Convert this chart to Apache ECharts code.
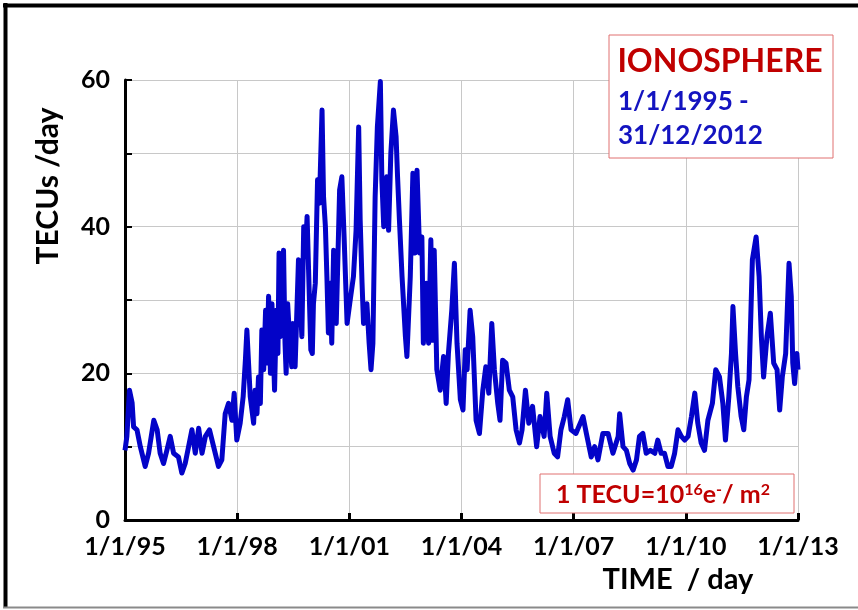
<!DOCTYPE html>
<html>
<head>
<meta charset="utf-8">
<script src="https://cdn.jsdelivr.net/npm/echarts@6/dist/echarts.min.js"></script>
<style>
  html, body { margin: 0; padding: 0; background: #fff; }
  #chart { width: 858px; height: 610px; }
</style>
</head>
<body>
<div id="chart"></div>
<script>
// decimal year of each sample
const years = [
  1995.00, 1995.05, 1995.12, 1995.19, 1995.23, 1995.32, 1995.41, 1995.54, 1995.63, 1995.77,
  1995.86, 1995.94, 1996.03, 1996.12, 1996.21, 1996.30, 1996.43, 1996.52, 1996.61, 1996.70,
  1996.79, 1996.88, 1996.97, 1997.06, 1997.15, 1997.26, 1997.37, 1997.50, 1997.59, 1997.68,
  1997.77, 1997.86, 1997.92, 1997.99, 1998.08, 1998.16, 1998.22, 1998.26, 1998.35,
  1998.44, 1998.48, 1998.53, 1998.57, 1998.62, 1998.66, 1998.71, 1998.76, 1998.80, 1998.84,
  1998.89, 1998.93, 1999.00, 1999.05, 1999.09, 1999.12, 1999.15, 1999.19, 1999.24, 1999.28,
  1999.31, 1999.35, 1999.40, 1999.46, 1999.49,
  1999.51, 1999.55, 1999.64, 1999.73, 1999.78, 1999.82, 1999.87, 1999.91, 1999.97, 2000.01,
  2000.04, 2000.09, 2000.15, 2000.20, 2000.27, 2000.31, 2000.36, 2000.40, 2000.44, 2000.49,
  2000.53, 2000.58, 2000.65, 2000.74, 2000.80, 2000.86, 2000.94, 2001.01, 2001.11, 2001.18,
  2001.25, 2001.29, 2001.34, 2001.38, 2001.47, 2001.53, 2001.58, 2001.63, 2001.69, 2001.75,
  2001.83, 2001.87, 2001.92, 2002.00, 2002.05, 2002.11, 2002.18, 2002.25, 2002.29, 2002.34,
  2002.41, 2002.50, 2002.54, 2002.63, 2002.70, 2002.76, 2002.81, 2002.88, 2002.94, 2002.98,
  2003.06, 2003.12, 2003.18, 2003.23, 2003.27, 2003.34, 2003.43, 2003.52, 2003.59, 2003.65,
  2003.74, 2003.81, 2003.88, 2003.97, 2004.04,
  2004.10, 2004.15, 2004.23, 2004.30, 2004.39, 2004.48, 2004.57, 2004.65, 2004.73, 2004.81,
  2004.88, 2004.97, 2005.03, 2005.10, 2005.19, 2005.28, 2005.37, 2005.46, 2005.55, 2005.62,
  2005.71, 2005.80, 2005.90, 2006.01, 2006.10, 2006.21, 2006.28, 2006.37, 2006.48, 2006.57,
  2006.66, 2006.75, 2006.84, 2006.93, 2007.06,
  2007.25, 2007.34, 2007.47, 2007.56, 2007.65, 2007.78, 2007.92, 2008.05, 2008.19, 2008.23,
  2008.32, 2008.41, 2008.50, 2008.59, 2008.68, 2008.76, 2008.85, 2008.94, 2009.05, 2009.17,
  2009.25, 2009.34, 2009.43, 2009.52, 2009.61, 2009.70, 2009.79, 2009.88, 2009.97, 2010.06,
  2010.15, 2010.24, 2010.32, 2010.41, 2010.50, 2010.59, 2010.71, 2010.80, 2010.90, 2010.99,
  2011.06, 2011.15, 2011.22, 2011.26, 2011.33, 2011.39, 2011.48, 2011.55, 2011.62, 2011.69,
  2011.78, 2011.88, 2011.96, 2012.02, 2012.08, 2012.17, 2012.26, 2012.35, 2012.44, 2012.51,
  2012.58, 2012.67, 2012.76, 2012.82, 2012.86, 2012.91, 2012.97, 2013.00
];

// TECUs per day
const tec = [
  9.5, 11.4, 17.7, 16.0, 12.7, 12.3, 10.0, 7.3, 9.1, 13.6,
  12.3, 9.1, 7.7, 9.5, 11.4, 9.1, 8.6, 6.4, 7.7, 10.0,
  12.3, 9.1, 12.5, 9.1, 11.4, 12.3, 10.0, 7.3, 8.2, 14.5,
  15.9, 13.6, 17.3, 10.9, 13.2, 16.8, 21.8, 25.9, 16.8,
  13.2, 17.7, 14.5, 19.5, 15.9, 25.9, 20.5, 28.6, 21.4, 30.5,
  20.0, 29.5, 17.7, 28.6, 22.7, 36.4, 25.0, 32.3, 36.8, 24.1,
  20.0, 29.5, 25.0, 20.9, 26.8,
  23.2, 20.9, 35.5, 25.0, 40.0, 35.9, 41.4, 34.1, 23.2, 22.7,
  29.5, 32.3, 46.4, 43.2, 55.9, 44.1, 40.0, 33.2, 25.5, 32.3,
  24.1, 36.8, 26.8, 45.0, 46.8, 38.6, 26.8, 29.5, 33.2, 39.5,
  53.6, 40.9, 32.3, 26.8, 29.5, 24.1, 20.5, 24.1, 44.0, 53.6,
  59.8, 46.4, 40.0, 46.8, 39.5, 50.0, 55.9, 52.3, 46.8, 40.9,
  33.2, 25.0, 22.3, 33.2, 47.3, 36.4, 47.7, 36.4, 38.6, 24.1,
  32.3, 24.1, 38.2, 24.5, 36.8, 20.5, 17.7, 22.3, 15.9, 22.7,
  28.6, 35.0, 24.1, 16.4, 15.0,
  23.2, 20.5, 28.6, 25.0, 13.6, 11.8, 17.7, 20.9, 17.3, 26.8,
  20.5, 15.9, 13.6, 21.8, 21.4, 17.7, 16.8, 12.3, 10.5, 12.3,
  17.7, 13.2, 15.5, 10.0, 14.1, 11.4, 17.3, 11.4, 9.1, 8.6,
  12.3, 14.1, 16.4, 12.3, 11.8,
  14.1, 11.8, 8.6, 10.0, 8.2, 11.8, 11.8, 9.1, 11.4, 14.5,
  10.0, 9.5, 7.7, 6.8, 8.2, 11.4, 11.8, 9.1, 9.5, 9.1,
  10.9, 9.1, 9.1, 7.3, 7.3, 9.1, 12.3, 11.4, 10.9, 11.4,
  14.1, 17.3, 13.2, 10.5, 9.5, 13.6, 15.9, 20.5, 19.5, 15.9,
  10.9, 16.8, 22.7, 29.1, 22.7, 18.2, 14.1, 12.3, 16.8, 19.1,
  35.5, 38.6, 33.2, 25.0, 19.5, 25.0, 28.2, 21.4, 20.5, 15.0,
  19.5, 22.7, 35.0, 30.5, 21.4, 18.6, 22.7, 20.5
];

const xTicks = [1995, 1998, 2001, 2004, 2007, 2010, 2013];
const yLabels = [0, 20, 40, 60];

const font = 'Lato, "Open Sans", sans-serif';
const chart = echarts.init(document.getElementById('chart'), null, { renderer: 'canvas' });

chart.setOption({
  animation: false,
  backgroundColor: '#fff',
  grid: { left: 125, top: 80, width: 673, height: 440 },
  xAxis: {
    type: 'value',
    min: xTicks[0],
    max: xTicks[xTicks.length - 1],
    interval: 3,
    axisLine: { lineStyle: { color: '#000', width: 3 } },
    axisTick: { inside: true, length: 7, lineStyle: { color: '#000', width: 3 } },
    splitLine: { show: true, lineStyle: { color: '#c8c8c8', width: 1 } },
    axisLabel: {
      color: '#000', fontFamily: font, fontWeight: 'bold', fontSize: 25, margin: 14,
      formatter: (v) => (xTicks.includes(v) ? '1/1/' + String(v).slice(2) : ''),
    },
  },
  yAxis: {
    type: 'value',
    min: 0,
    max: 60,
    interval: 10,
    axisLine: { show: true, lineStyle: { color: '#000', width: 3 } },
    axisTick: { show: true, inside: true, length: 7, lineStyle: { color: '#000', width: 2 } },
    splitLine: { show: true, lineStyle: { color: '#c8c8c8', width: 1 } },
    axisLabel: {
      color: '#000', fontFamily: font, fontWeight: 'bold', fontSize: 25, margin: 15,
      formatter: (v) => (yLabels.includes(v) ? String(v) : ''),
    },
  },
  series: [
    {
      type: 'line',
      data: years.map((y, i) => [y, tec[i]]),
      showSymbol: false,
      lineStyle: { color: '#0303c8', width: 5, join: 'round' },
      z: 3,
    },
  ],
  graphic: [
    // outer frame: heavy top and left, light bottom
    { type: 'line', shape: { x1: 3, y1: 5.5, x2: 858, y2: 5.5 },
      style: { stroke: '#000', lineWidth: 4 }, silent: true },
    { type: 'line', shape: { x1: 5.5, y1: 3, x2: 5.5, y2: 608 },
      style: { stroke: '#000', lineWidth: 4 }, silent: true },
    { type: 'line', shape: { x1: 3, y1: 607.5, x2: 858, y2: 607.5 },
      style: { stroke: '#8a8a8a', lineWidth: 2 }, silent: true },
    // axis names
    { type: 'text', x: 48, y: 186, rotation: Math.PI / 2,
      style: { text: 'TECUs /day', font: 'bold 30px ' + font, fill: '#000',
        align: 'center', verticalAlign: 'middle' } },
    { type: 'text', x: 678, y: 580,
      style: { text: 'TIME  / day', font: 'bold 29px ' + font, fill: '#000',
        align: 'center', verticalAlign: 'middle' } },
    // title box
    { type: 'rect', shape: { x: 609, y: 35, width: 224, height: 123 },
      style: { fill: '#fff', stroke: '#e07070', lineWidth: 1 }, z: 10 },
    { type: 'text', x: 720, y: 62, z: 11,
      style: { text: 'IONOSPHERE', font: 'bold 32px ' + font, fill: '#c00000',
        align: 'center', verticalAlign: 'middle' } },
    { type: 'text', x: 618, y: 102, z: 11,
      style: { text: '1/1/1995 -', font: 'bold 26px ' + font, fill: '#1414c0',
        align: 'left', verticalAlign: 'middle' } },
    { type: 'text', x: 618, y: 136, z: 11,
      style: { text: '31/12/2012', font: 'bold 26px ' + font, fill: '#1414c0',
        align: 'left', verticalAlign: 'middle' } },
    // unit box
    { type: 'rect', shape: { x: 540, y: 474, width: 254, height: 39 },
      style: { fill: '#fff', stroke: '#e07070', lineWidth: 1 }, z: 10 },
    { type: 'text', x: 663, y: 495, z: 11,
      style: {
        text: '{a|1 TECU=10}{s|16}{a|e}{s|-}{a|/ m}{s|2}',
        align: 'center', verticalAlign: 'middle',
        rich: {
          a: { font: 'bold 25px ' + font, fill: '#c00000' },
          s: { font: 'bold 16px ' + font, fill: '#c00000', verticalAlign: 'top', padding: [0, 0, 10, 0] },
        },
      } },
  ],
});
</script>
</body>
</html>
